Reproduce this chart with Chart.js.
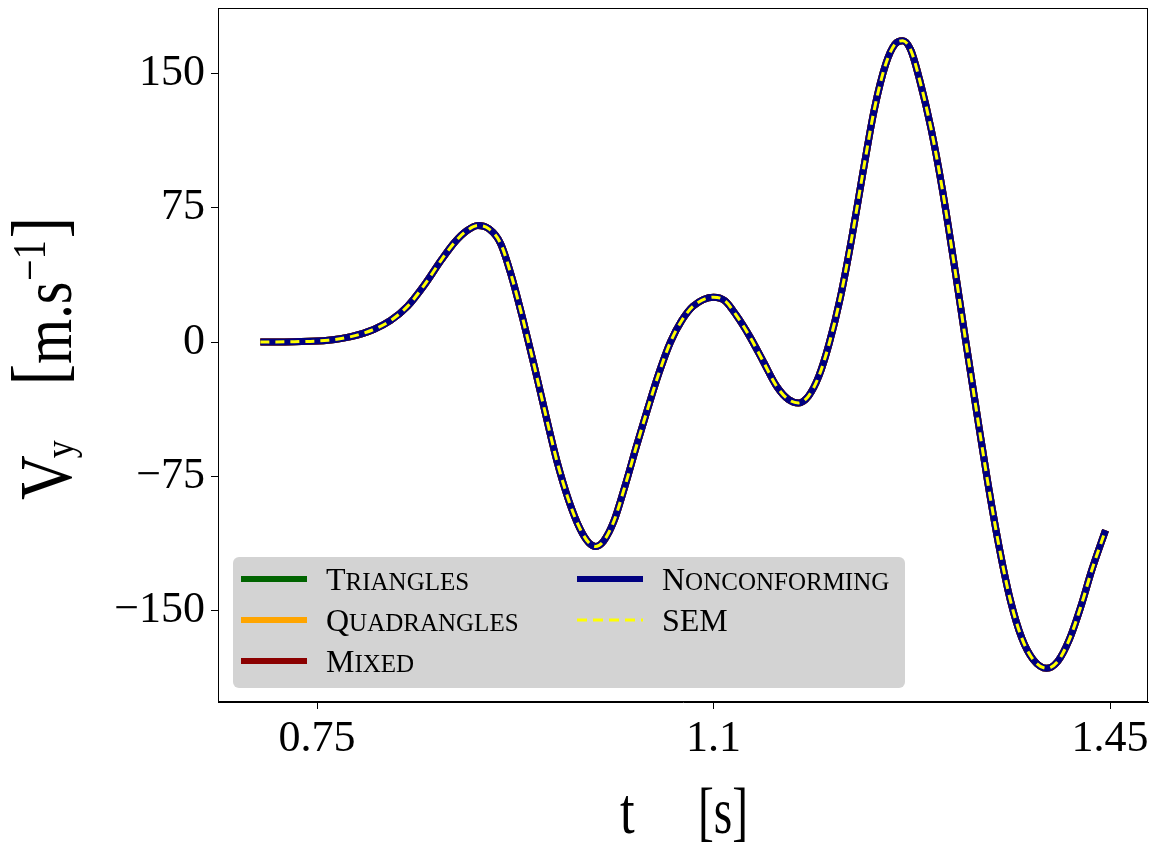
<!DOCTYPE html>
<html lang="en">
<head>
<meta charset="UTF-8" />
<title>Vy versus t</title>
<script src="https://cdn.jsdelivr.net/npm/chart.js"></script>
<style>
  body { margin: 0; background: #ffffff; }
  #wrap { width: 1158px; height: 848px; }
</style>
</head>
<body>
<div id="wrap"><canvas id="vyChart" width="1158" height="848"></canvas></div>
<script>
// time samples [s] and velocity Vy [m/s]
const times = [
  0.700, 0.730, 0.760, 0.780, 0.800, 0.815, 0.830, 0.845, 0.860, 0.872,
  0.882, 0.892, 0.902, 0.912, 0.922, 0.932, 0.942, 0.952, 0.962, 0.972,
  0.982, 0.990, 0.996, 1.003, 1.012, 1.022, 1.032, 1.042, 1.052, 1.062,
  1.072, 1.082, 1.100, 1.110, 1.120, 1.132, 1.144, 1.156, 1.166, 1.175,
  1.184, 1.193, 1.202, 1.212, 1.222, 1.232, 1.242, 1.252, 1.260, 1.267,
  1.274, 1.282, 1.292, 1.302, 1.312, 1.322, 1.332, 1.342, 1.352, 1.362,
  1.372, 1.382, 1.394, 1.404, 1.414, 1.424, 1.434, 1.446
];
const vy = [
  0, 0.2, 1, 3, 7, 12, 20, 32, 46, 56,
  62, 65, 63, 55, 36, 12, -14, -41, -67, -88,
  -104, -112, -114, -111, -100, -80, -58, -37, -17, 0,
  12, 20, 25, 23, 15, 3, -11, -25, -32, -34,
  -30, -19, -1, 25, 58, 95, 130, 155, 166, 168,
  163, 146, 119, 85, 45, 3, -38, -78, -114, -144,
  -165, -177, -182, -178, -166, -148, -127, -105
];
const seriesNames = ['Triangles', 'Quadrangles', 'Mixed', 'Nonconforming', 'SEM'];
const seriesColors = ['#006400', '#ffa500', '#8b0000', '#000080', '#ffff00'];
const xTicks = [0.75, 1.1, 1.45];
const yTicks = [-150, -75, 0, 75, 150];

const serif = "'Liberation Serif', 'DejaVu Serif', serif";

const points = times.map((t, i) => ({ x: t, y: vy[i] }));

const datasets = seriesNames.map((name, i) => ({
  label: name,
  data: points,
  borderColor: seriesColors[i],
  backgroundColor: seriesColors[i],
  borderWidth: name === 'SEM' ? 3 : 7,
  borderDash: name === 'SEM' ? [9, 6] : [],
  pointRadius: 0,
  fill: false,
  cubicInterpolationMode: 'monotone',
  order: seriesNames.length - 1 - i   // SEM drawn last, on top
}));

function smallCaps(ctx, text, x, y, size) {
  // first letter full size, rest as reduced capitals
  ctx.font = size + 'px ' + serif;
  ctx.fillText(text[0], x, y);
  let w = ctx.measureText(text[0]).width;
  ctx.font = Math.round(size * 0.77) + 'px ' + serif;
  ctx.fillText(text.slice(1).toUpperCase(), x + w, y);
}

// draws pieces of text one after another, each {t, size, dy, gap}
function textRun(ctx, pieces) {
  let px = 0;
  pieces.forEach(p => {
    ctx.font = p.size + 'px ' + serif;
    px += p.gap || 0;
    ctx.fillText(p.t, px, p.dy || 0);
    px += ctx.measureText(p.t).width;
  });
}

const decorations = {
  id: 'decorations',
  afterDraw(chart) {
    const ctx = chart.ctx;
    const a = chart.chartArea;
    ctx.save();

    // frame around the plot
    ctx.strokeStyle = '#000';
    ctx.lineWidth = 1;
    ctx.strokeRect(a.left + 0.5, a.top + 0.5, a.right - a.left - 1, a.bottom - a.top - 1);

    // legend box
    const bx = a.left + 15, bw = 672, bh = 131, by = a.bottom - 14 - bh;
    ctx.fillStyle = '#d3d3d3';
    ctx.beginPath();
    ctx.roundRect(bx, by, bw, bh, 6);
    ctx.fill();

    const cols = [bx + 8, bx + 344];
    const rows = [by + 22, by + 63, by + 104];
    chart.data.datasets.forEach((ds, i) => {
      const col = i < 3 ? 0 : 1;
      const row = i < 3 ? i : i - 3;
      const x = cols[col], y = rows[row];
      ctx.strokeStyle = ds.borderColor;
      ctx.lineWidth = ds.label === 'SEM' ? 3 : 6;
      ctx.setLineDash(ds.label === 'SEM' ? [10, 6] : []);
      ctx.beginPath();
      ctx.moveTo(x, y);
      ctx.lineTo(x + 66, y);
      ctx.stroke();
      ctx.setLineDash([]);
      ctx.fillStyle = '#000';
      ctx.textBaseline = 'alphabetic';
      ctx.textAlign = 'left';
      if (ds.label === 'SEM') {
        ctx.font = '32px ' + serif;
        ctx.fillText(ds.label, x + 85, y + 11);
      } else {
        smallCaps(ctx, ds.label, x + 85, y + 11, 32);
      }
    });

    ctx.fillStyle = '#000';
    ctx.textAlign = 'left';
    ctx.textBaseline = 'alphabetic';

    // x axis title: t   [s]
    ctx.save();
    ctx.translate(620, 833);
    ctx.scale(0.8, 1);
    textRun(ctx, [{ t: 't', size: 66 }]);
    ctx.restore();
    ctx.save();
    ctx.translate(698, 833);
    ctx.scale(0.72, 1);
    textRun(ctx, [{ t: '[', size: 66 }, { t: 's', size: 66 }, { t: ']', size: 66 }]);
    ctx.restore();

    // y axis title: V_y   [m.s^-1]
    ctx.save();
    ctx.translate(71, 500);
    ctx.rotate(-Math.PI / 2);
    ctx.scale(1, 1.2);
    textRun(ctx, [
      { t: 'V', size: 62 },
      { t: 'y', size: 36, dy: 2, gap: -3 },
      { t: '[', size: 64, dy: -6, gap: 55 },
      { t: 'm.s', size: 58 },
      { t: '\u22121', size: 38, dy: -22, gap: 1 },
      { t: ']', size: 64, dy: -6, gap: 2 }
    ]);
    ctx.restore();

    ctx.restore();
  }
};

new Chart(document.getElementById('vyChart'), {
  type: 'line',
  data: { datasets },
  options: {
    responsive: false,
    animation: false,
    layout: { autoPadding: false, padding: { top: 8, right: 10, left: 0, bottom: 0 } },
    plugins: {
      legend: { display: false },
      tooltip: { enabled: false }
    },
    scales: {
      x: {
        type: 'linear',
        min: 0.6626,
        max: 1.4835,
        afterBuildTicks: s => { s.ticks = xTicks.map(v => ({ value: v })); },
        afterFit: s => { s.height = 146; s.paddingLeft = 0; s.paddingRight = 0; },
        grid: { drawOnChartArea: false, tickLength: 7, color: '#000' },
        border: { color: '#000' },
        ticks: {
          autoSkip: false,
          maxRotation: 0,
          padding: 4,
          color: '#000',
          font: { family: serif, size: 44 },
          callback: v => String(v)
        }
      },
      y: {
        type: 'linear',
        min: -200.8,
        max: 186.3,
        afterBuildTicks: s => { s.ticks = yTicks.map(v => ({ value: v })); },
        afterFit: s => { s.width = 218; s.paddingTop = 0; s.paddingBottom = 0; },
        grid: { drawOnChartArea: false, tickLength: 7, color: '#000' },
        border: { color: '#000' },
        ticks: {
          autoSkip: false,
          padding: 6,
          color: '#000',
          font: { family: serif, size: 44 },
          callback: v => v < 0 ? '\u2212' + Math.abs(v) : String(v)
        }
      }
    }
  },
  plugins: [decorations]
});
</script>
</body>
</html>
